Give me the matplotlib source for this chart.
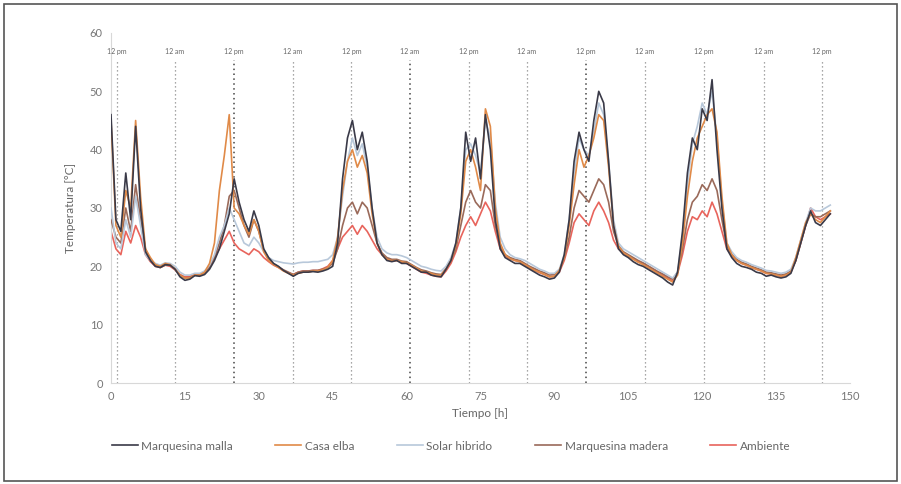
import matplotlib
matplotlib.use("Agg")
import matplotlib.pyplot as plt
from matplotlib.patches import Rectangle

plt.rcParams['font.family'] = ['Lato', 'DejaVu Sans']

# time in hours (hourly samples)
tiempo = list(range(147))

marquesina_malla = [
    46, 28, 26, 36, 28, 44, 30, 22.5, 21, 20, 19.8, 20.3, 20.2, 19.5, 18.2, 17.6, 17.8, 18.4, 18.3, 18.6,
    19.5, 21, 23, 26, 29, 35, 31, 28, 26, 29.5, 27, 23, 21.5, 20.5, 20, 19.3, 18.8, 18.3, 18.8, 19,
    19, 19.1, 19, 19.2, 19.5, 20, 24, 35, 42, 45, 40, 43, 38, 30, 24, 22, 21, 20.8, 21, 20.5,
    20.5, 20, 19.5, 19, 19, 18.5, 18.3, 18.2, 19.5, 21, 24, 30, 43, 38, 42, 35, 46, 40, 28, 23,
    21.5, 21, 20.5, 20.5, 20, 19.5, 19, 18.5, 18.2, 17.8, 18, 19, 22, 28, 38, 43, 40, 38, 45, 50,
    48, 38, 27, 23, 22, 21.5, 20.8, 20.3, 20, 19.5, 19, 18.5, 18, 17.3, 16.8, 19, 26, 36, 42, 40,
    47, 45, 52, 40, 30, 23, 21.5, 20.5, 20, 19.8, 19.5, 19, 18.8, 18.3, 18.5, 18.2, 18, 18.2, 18.8, 21,
    24, 27, 29.5, 27.5, 27, 28, 29]

casa_elba = [
    45, 27, 25, 33, 30, 45, 32, 23, 21.5, 20.3, 20, 20.5, 20.3, 19.5, 18.5, 18, 18, 18.5, 18.5, 19,
    20.5, 24, 33, 39, 46, 30, 29, 27, 25.5, 28, 26, 22.5, 21, 20.3, 19.8, 19.2, 18.8, 18.5, 18.8, 19,
    19, 19.2, 19.2, 19.4, 19.8, 21, 25, 33, 38, 40, 37, 39, 36, 29, 24, 22, 21.2, 21, 21, 20.8,
    20.6, 20.2, 19.7, 19.2, 19, 18.8, 18.5, 18.5, 19.5, 21, 23.5, 29, 38, 40, 37, 33, 47, 44, 30, 24,
    22, 21.3, 21, 20.8, 20.3, 19.8, 19.3, 19, 18.6, 18.2, 18.3, 19.3, 21.5, 27, 34, 40, 37, 39, 42, 46,
    45, 37, 27, 23.5, 22.3, 21.8, 21.2, 20.7, 20.3, 19.8, 19.3, 18.8, 18.3, 17.8, 17.3, 18.5, 24, 32, 38, 42,
    44, 46, 47, 43, 32, 24, 22, 21, 20.5, 20.2, 19.8, 19.5, 19.2, 18.8, 18.7, 18.5, 18.3, 18.5, 19, 21.5,
    24.5, 27.5, 29, 28, 27.5, 28.5, 29.5]

solar_hibrido = [
    30, 24, 23, 28, 25, 32, 27, 22, 21, 20.5, 20.2, 20.6, 20.5, 20, 19, 18.5, 18.5, 18.8, 18.8, 19.2,
    20.2, 22, 25, 27, 30, 28, 26, 24, 23.5, 25, 24, 22.5, 21.5, 21, 20.8, 20.6, 20.5, 20.4, 20.6, 20.7,
    20.7, 20.8, 20.8, 21, 21.2, 22, 25, 32, 38, 42, 39, 41, 37, 30, 25, 23, 22.3, 22, 22, 21.8,
    21.5, 21, 20.5, 20, 19.8, 19.5, 19.3, 19.2, 20, 21.5, 24, 30, 40, 41, 39, 36, 45, 42, 31, 25,
    23, 22, 21.5, 21.3, 21, 20.5, 20, 19.5, 19.2, 18.8, 18.8, 19.5, 22, 28, 36, 42, 40, 39, 43, 48,
    46, 38, 28, 24, 23, 22.5, 22, 21.5, 21, 20.5, 20, 19.5, 19, 18.5, 18, 19, 25, 34, 41, 44,
    48, 46, 50, 42, 31, 24, 22.5, 21.5, 21, 20.7, 20.3, 20, 19.7, 19.3, 19.2, 19, 18.8, 19, 19.5, 21.5,
    24.5, 27.5, 30, 29.5, 29.5, 30, 30.5]

marquesina_madera = [
    28, 25, 24, 30, 26, 34, 28, 23, 21, 20.2, 19.8, 20.2, 20.2, 19.6, 18.5, 18, 18.1, 18.5, 18.5, 18.9,
    19.8, 21.5, 24, 27, 32, 33, 30, 27, 25, 28, 26, 22.8, 21.3, 20.4, 19.9, 19.4, 19, 18.6, 19, 19.2,
    19.2, 19.3, 19.3, 19.5, 19.8, 20.5, 23, 27, 30, 31, 29, 31, 30, 27, 24, 22.3, 21.5, 21.2, 21.2, 20.9,
    20.8, 20.3, 19.8, 19.4, 19.2, 18.9, 18.7, 18.6, 19.6, 21, 23, 27, 31, 33, 31, 30, 34, 33, 27, 23.5,
    22, 21.5, 21.2, 21, 20.5, 20, 19.6, 19.2, 18.9, 18.5, 18.6, 19.3, 21.5, 25, 30, 33, 32, 31, 33, 35,
    34, 31, 26, 23.5, 22.5, 22, 21.5, 21, 20.6, 20.1, 19.6, 19.1, 18.7, 18.2, 17.8, 19, 23, 28, 31, 32,
    34, 33, 35, 33, 28, 23.5, 22, 21.2, 20.7, 20.4, 20, 19.7, 19.4, 19, 18.9, 18.7, 18.5, 18.7, 19.2, 21,
    24, 27, 29, 28.5, 28.5, 29, 29.5]

ambiente = [
    26, 23, 22, 26, 24, 27, 25, 22, 20.8, 20, 19.8, 20.2, 20, 19.4, 18.6, 18.2, 18.3, 18.6, 18.6, 19,
    20, 21.5, 23, 24.5, 26, 24, 23, 22.5, 22, 23, 22.5, 21.5, 20.8, 20.2, 19.8, 19.3, 18.9, 18.6, 19, 19.2,
    19.2, 19.3, 19.3, 19.6, 20, 21, 23, 25, 26, 27, 25.5, 27, 26, 24.5, 23, 22, 21.3, 21, 21, 20.7,
    20.5, 20, 19.5, 19, 18.8, 18.5, 18.3, 18.2, 19.2, 20.5, 22.5, 25, 27, 28.5, 27, 29, 31, 29.5, 26, 23,
    21.8, 21.3, 21, 20.8, 20.3, 19.8, 19.3, 18.9, 18.6, 18.2, 18.3, 19, 21, 24, 27.5, 29, 28, 27, 29.5, 31,
    29.5, 27.5, 24.5, 23, 22.3, 21.8, 21.3, 20.8, 20.4, 20, 19.5, 19, 18.5, 18, 17.5, 18.8, 22, 26, 28.5, 28,
    29.5, 28.5, 31, 29, 26, 23, 21.8, 21, 20.5, 20.2, 19.8, 19.5, 19.2, 18.8, 18.7, 18.5, 18.3, 18.5, 19, 21,
    24, 27, 30, 28.5, 28, 28.5, 29]

series_names = ["Marquesina malla", "Casa elba", "Solar hibrido", "Marquesina madera", "Ambiente"]
series_values = [marquesina_malla, casa_elba, solar_hibrido, marquesina_madera, ambiente]
series_colors = ["#3a3a48", "#e08a48", "#b8c8da", "#9a6a5a", "#e8645c"]
series_z = [6, 5, 4, 3, 2]

# day/night reference lines (hours) and their labels
ref_hours = [1.2, 13.0, 25.0, 36.9, 48.8, 60.7, 72.7, 84.4, 96.4, 108.4, 120.4, 132.5, 144.3]
ref_labels = ["12 pm", "12 am", "12 pm", "12 am", "12 pm", "12 am", "12 pm",
              "12 am", "12 pm", "12 am", "12 pm", "12 am", "12 pm"]
ref_dark = [False, False, True, False, False, True, False, False, True, False, False, False, False]

x_ticks = [0, 15, 30, 45, 60, 75, 90, 105, 120, 135, 150]
y_ticks = [0, 10, 20, 30, 40, 50, 60]

W, H = 901, 484
fig = plt.figure(figsize=(W / 100, H / 100), dpi=100)
fig.patch.set_facecolor("white")

# outer frame
fig.patches.append(Rectangle((4 / W, 3 / H), 893 / W, 477 / H, transform=fig.transFigure,
                             fill=False, edgecolor="#555555", linewidth=1.2))

ax = fig.add_axes([111 / W, (H - 383) / H, 739 / W, 350 / H])
ax.set_xlim(0, 150)
ax.set_ylim(0, 60)

for hx, lab, dk in zip(ref_hours, ref_labels, ref_dark):
    ax.plot([hx, hx], [0, 55.4], linestyle=(0, (1, 2.2)), color="#444444" if dk else "#8a8a8a",
            linewidth=1.1 if dk else 0.9, zorder=1)
    ax.text(hx, 56.9, lab, ha="center", va="center", fontsize=5, color="#666666")

for name, vals, col, z in zip(series_names, series_values, series_colors, series_z):
    ax.plot(tiempo, vals, color=col, linewidth=1.2, label=name, zorder=z)

ax.set_xticks(x_ticks)
ax.set_yticks(y_ticks)
ax.tick_params(length=0, labelsize=8, colors="#777777", pad=6)
for s in ["top", "right"]:
    ax.spines[s].set_visible(False)
for s in ["left", "bottom"]:
    ax.spines[s].set_color("#d8d8d8")
    ax.spines[s].set_linewidth(0.8)

ax.set_xlabel("Tiempo [h]", fontsize=8.5, color="#666666", labelpad=4)
ax.set_ylabel("Temperatura [°C]", fontsize=8.5, color="#666666", labelpad=10)

handles, labels = ax.get_legend_handles_labels()
fig.legend(handles, labels, loc="center", bbox_to_anchor=(451 / W, (H - 446) / H), ncol=5,
           frameon=False, fontsize=8.5, handlelength=2.2, handletextpad=0.3, columnspacing=3.6,
           labelcolor="#666666")

fig.savefig("out.png", dpi=100, facecolor="white")
